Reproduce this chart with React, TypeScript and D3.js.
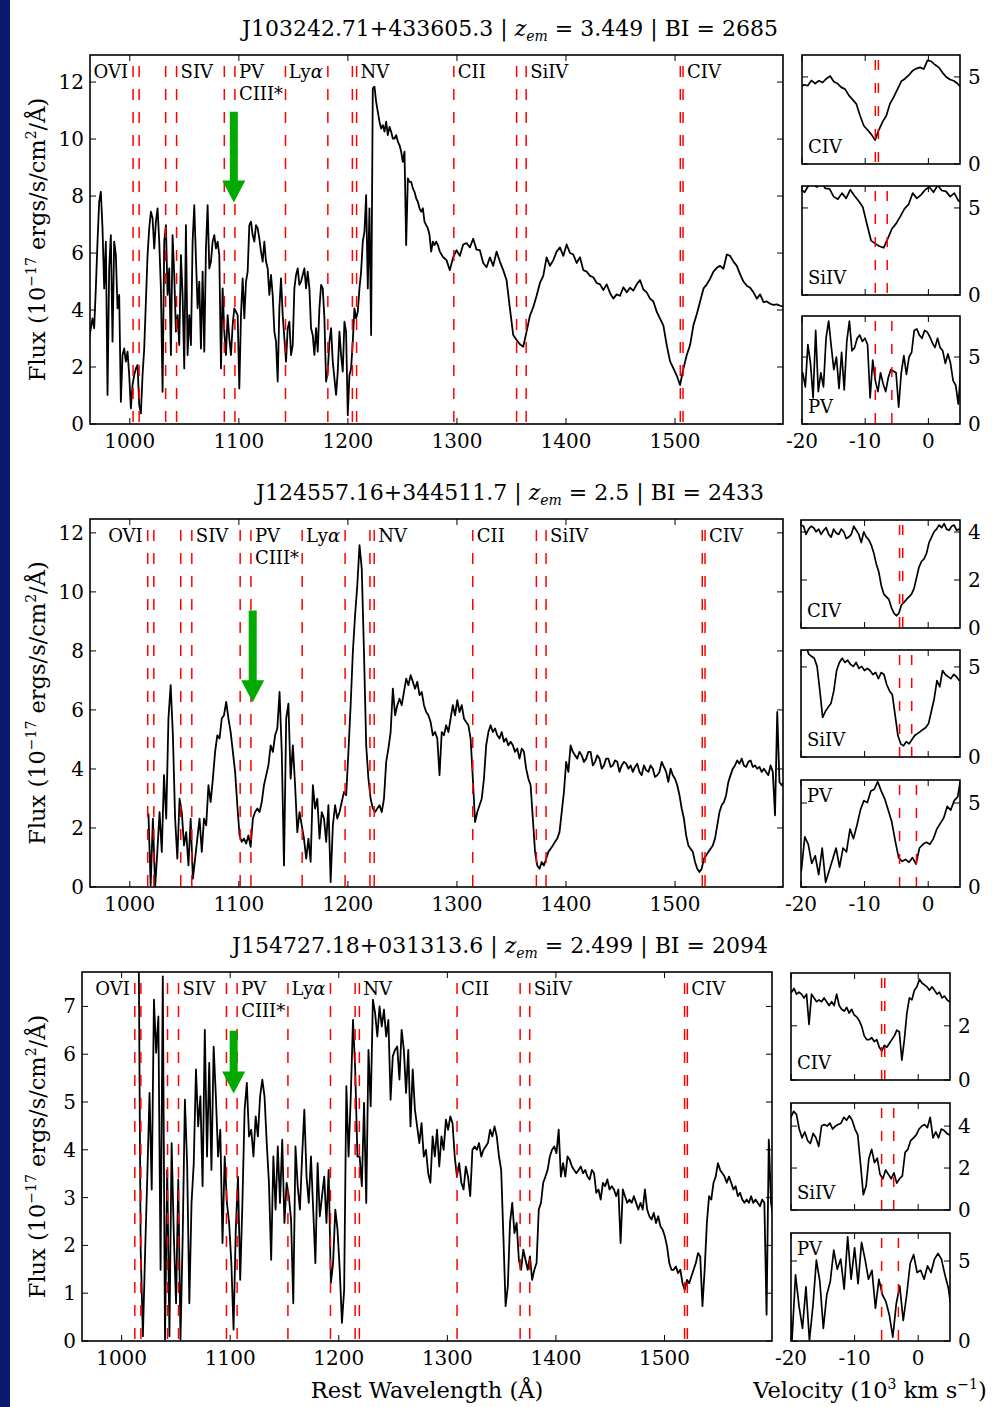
import React from 'react';
import * as d3 from 'd3';

// ---------------- DATA ----------------
const C_KMS = 299792.458;

const quasarNames = ['J103242.71+433605.3', 'J124557.16+344511.7', 'J154727.18+031313.6'];
const quasarZem = ['3.449', '2.5', '2.499'];
const quasarBI = [2685, 2433, 2094];
// outflow velocity of marked absorption (10^3 km/s)
const outflowVel = [-8.4, -4.5, -5.75];
// green arrows: wavelength, top flux, tip flux
const arrowWave = [1095.4, 1112.7, 1103.2];
const arrowTop = [10.96, 9.37, 6.49];
const arrowTip = [7.77, 6.26, 5.18];

const waveDomain = [963.5, 1599];
const waveTicks = [1000, 1100, 1200, 1300, 1400, 1500];
const velDomain = [-20, 5];
const velTicks = [-20, -10, 0];

const mainYMax = [12.95, 12.47, 7.72];
const mainYTicks = [
  [0, 2, 4, 6, 8, 10, 12],
  [0, 2, 4, 6, 8, 10, 12],
  [0, 1, 2, 3, 4, 5, 6, 7],
];
const smallYMax = [
  [6.26, 6.26, 8.06],
  [4.5, 5.94, 6.37],
  [3.95, 5.1, 6.75],
];
const smallYTicks = [
  [[0, 5], [0, 5], [0, 5]],
  [[0, 2, 4], [0, 5], [0, 5]],
  [[0, 2], [0, 2, 4], [0, 5]],
];

// rest wavelengths of the marked transitions
const lineRest = [1031.93, 1037.62, 1062.66, 1072.97, 1117.98, 1128.01, 1175.7, 1215.67,
  1238.82, 1242.80, 1334.53, 1393.76, 1402.77, 1548.20, 1550.78];
const lineLabelText = ['OVI', 'SIV', 'PV', 'CIII*', 'Lyα', 'NV', 'CII', 'SiIV', 'CIV'];
const lineLabelRef = [0, 3, 5, 5, 7, 9, 10, 12, 14];
const lineLabelAnchor = ['end', 'start', 'start', 'start', 'end', 'start', 'start', 'start', 'start'];
const lineLabelRow = [0, 0, 0, 1, 0, 0, 0, 0, 0];

// velocity panels: ion name, reference (blue) line, partner line
const ionNames = ['CIV', 'SiIV', 'PV'];
const ionRef = [1548.20, 1393.76, 1117.98];
const ionPair = [1550.78, 1402.77, 1128.01];

// ---- spectrum 1 (J103242.71+433605.3) ----
const spec1StartA = 961.2;
const spec1StepA = 1.53;
const spec1FluxA = [
  1.25, 3.01, 3.36, 3.71, 3.36, 4.76, 6.40, 7.80, 8.15, 6.87,
  4.76, 6.40, 1.02, 5.46, 6.63, 2.89, 6.40, 5.93, 4.06, 4.53,
  0.78, 2.42, 2.65, 2.19, 2.54, 1.72, 0.55, 1.37, 1.72, 1.95,
  2.07, 0.67, 0.37, 1.72, 2.65, 4.29, 5.93, 6.87, 7.45, 7.22,
  6.16, 7.10, 7.57, 6.40, 4.76, 1.13, 6.40, 6.98, 4.53, 5.46,
  2.42, 6.63, 5.23, 3.24, 3.82, 2.77, 5.93, 4.53, 1.95, 6.98,
  2.42, 3.82, 2.77, 6.40, 7.68, 5.81, 4.06, 5.00, 2.65, 5.35,
  2.54, 6.16, 7.68, 5.46, 5.70, 6.40, 6.63, 6.16, 6.40, 5.93,
  1.95, 4.76, 3.24, 2.42, 3.82, 3.01, 2.42, 3.47, 4.06, 3.94,
  3.82, 1.25, 3.82, 5.11, 3.71, 5.00, 5.35, 6.98, 7.10, 6.63,
  6.40, 6.98, 6.87, 6.51, 6.05, 5.70, 6.40, 5.70, 5.46, 4.53,
  5.23, 4.53, 3.24, 2.89, 1.49, 4.06, 5.11, 3.82, 3.01, 2.19,
  3.36, 3.59, 2.42, 2.77, 4.76, 5.23, 5.46, 4.88, 5.00, 5.23,
  5.46, 4.76, 5.35, 4.76, 3.36, 3.12, 2.42, 3.36, 2.54, 4.06,
  4.88, 4.76, 3.71, 1.49, 1.84, 2.89, 3.36, 2.19, 1.60, 1.02,
  1.84, 3.24, 2.42, 1.84, 3.59, 3.24, 0.31, 1.72, 1.95, 2.89,
  4.06, 3.71, 3.94, 4.76, 5.35, 6.40, 6.75, 8.03, 4.76, 7.57,
  3.12, 11.78, 11.84, 11.31, 10.96, 10.61, 10.37, 10.49, 10.26, 10.61,
  10.14, 10.43, 10.26, 10.02, 10.02, 10.14, 9.91, 9.79, 9.56, 9.20,
  9.56, 6.28, 8.62, 8.50, 8.50, 8.27, 8.15, 7.92, 7.80, 7.57,
  7.45, 7.57, 7.10, 6.98, 6.87, 6.63, 6.05, 6.40, 6.28, 6.40,
  6.28,
];
const spec1StartB = 1284.3;
const spec1StepB = 3.06;
const spec1FluxB = [
  6.05, 5.85, 5.75, 5.40, 5.85, 6.10, 5.90, 6.30, 6.35, 6.20,
  6.50, 6.12, 6.10, 5.65, 5.50, 5.85, 5.55, 6.05, 5.70, 5.40,
  5.05, 4.06, 3.12, 2.95, 2.80, 2.71, 3.24, 3.80, 4.10, 4.50,
  4.95, 5.20, 5.85, 5.55, 5.75, 6.05, 6.20, 5.90, 6.30, 6.00,
  5.95, 5.65, 5.85, 5.40, 5.35, 5.20, 5.15, 4.95, 4.90, 4.70,
  4.90, 4.60, 4.40, 4.55, 4.50, 4.80, 4.62, 4.78, 4.68, 4.90,
  5.05, 4.72, 4.62, 4.40, 4.30, 3.94, 3.70, 3.45, 2.77, 2.20,
  1.95, 1.70, 1.37, 1.95, 2.42, 2.77, 3.47, 3.85, 4.30, 4.75,
  4.90, 5.10, 5.35, 5.48, 5.55, 5.45, 5.95, 5.90, 5.70, 5.55,
  5.25, 5.00, 4.85, 4.78, 4.62, 4.40, 4.55, 4.28, 4.30, 4.22,
  4.18, 4.20, 4.15, 4.12,
];

// ---- spectrum 2 (J124557.16+344511.7) ----
const spec2Start = 1017.1;
const spec2Step = 2.0375;
const spec2Flux = [
  2.49, 0.06, 2.32, 0.00, 1.19, 2.54, 1.19, 3.79, 2.32, 5.71,
  6.84, 5.14, 2.32, 0.96, 2.99, 2.54, 1.41, 1.86, 0.73, 2.32,
  0.28, 0.96, 1.64, 2.32, 1.19, 2.32, 2.09, 3.45, 2.88, 3.67,
  4.58, 5.14, 5.03, 5.71, 5.82, 6.27, 5.71, 5.25, 4.58, 3.90,
  2.77, 1.75, 1.53, 1.64, 1.47, 1.75, 1.36, 2.32, 2.54, 2.66,
  2.54, 2.88, 3.45, 3.79, 4.12, 4.80, 4.58, 5.14, 5.37, 6.61,
  4.58, 0.73, 5.71, 6.21, 3.67, 4.80, 3.45, 1.86, 2.54, 2.09,
  1.64, 0.96, 1.64, 0.85, 3.45, 2.66, 2.99, 1.64, 2.54, 2.32,
  1.53, 2.77, 0.17, 2.09, 2.77, 2.32, 2.54, 2.88, 3.22, 3.11,
  4.58, 6.16, 7.97, 9.21, 10.23, 11.58, 10.79, 7.97, 4.80, 3.67,
  2.99, 2.66, 2.54, 2.66, 2.77, 2.54, 2.99, 4.24, 4.69, 5.25,
  6.72, 5.82, 6.16, 6.38, 6.16, 6.61, 7.06, 6.84, 7.18, 6.95,
  6.72, 6.95, 6.50, 6.61, 6.16, 5.93, 5.82, 5.59, 5.14, 5.25,
  5.03, 3.79, 5.25, 5.14, 5.48, 5.25, 5.71, 6.16, 5.82, 6.33,
  5.93, 6.16, 5.71, 5.59, 5.48, 5.03, 3.67, 2.20, 2.54, 2.77,
  2.99, 3.67, 4.80, 5.25, 5.48, 5.25, 5.37, 5.14, 5.03, 5.25,
  4.92, 5.03, 4.80, 4.92, 4.80, 4.58, 4.69, 4.35, 4.69, 4.58,
  4.01, 3.67, 3.45, 2.32, 1.19, 0.73, 0.62, 0.85, 0.73, 0.96,
  1.19, 1.30, 1.41, 1.53, 1.64, 1.86, 2.54, 3.22, 4.24, 3.90,
  4.80, 4.58, 4.46, 4.35, 4.58, 4.46, 4.24, 4.35, 4.58, 4.58,
  4.12, 4.24, 4.46, 4.35, 4.01, 4.12, 4.35, 4.35, 4.07, 4.12,
  4.29, 4.24, 3.90, 4.12, 4.24, 4.18, 4.01, 4.12, 3.90, 4.07,
  4.18, 3.90, 3.79, 4.12, 3.96, 3.90, 4.12, 4.01, 3.73, 3.79,
  3.90, 4.24, 4.07, 3.90, 3.56, 4.01, 3.79, 3.67, 3.45, 3.11,
  2.66, 2.32, 1.75, 1.41, 1.30, 1.19, 0.85, 0.62, 0.51, 0.62,
  0.96, 1.07, 1.19, 1.30, 1.41, 1.64, 2.09, 2.54, 2.77, 2.88,
  3.11, 3.56, 3.79, 4.01, 4.12, 4.29, 4.18, 4.35, 4.12, 4.07,
  4.24, 4.29, 4.07, 4.12, 4.01, 4.07, 3.90, 4.01, 3.90, 3.79,
  4.12, 3.90, 2.43, 5.93, 3.56, 3.45, 3.56,
];

// ---- spectrum 3 (J154727.18+031313.6) ----
const spec3Start = 1015.5;
const spec3Step = 2.037;
const spec3Flux = [
  9.0, 1.91, 0.10, 1.84, 3.44, 5.19, 3.17, 7.14, 6.03, 6.79,
  1.49, 7.63, 0.03, 3.58, 0.10, 4.14, 2.19, 0.79, 3.38, 0.03,
  2.19, 5.05, 3.72, 0.79, 2.89, 3.72, 5.68, 4.49, 5.12, 3.24,
  6.51, 3.86, 5.82, 3.58, 6.16, 5.12, 3.86, 4.42, 2.05, 3.86,
  2.89, 2.47, 1.63, 0.24, 2.33, 3.44, 1.28, 2.89, 4.84, 5.40,
  4.28, 4.42, 3.86, 4.70, 4.28, 5.12, 5.47, 5.12, 4.14, 3.31,
  1.70, 3.86, 2.75, 4.07, 2.89, 4.21, 2.47, 3.31, 3.03, 2.54,
  0.79, 4.07, 3.24, 2.75, 3.86, 4.84, 3.44, 2.89, 3.86, 2.75,
  1.63, 3.72, 2.61, 3.03, 3.44, 2.47, 3.58, 1.21, 1.63, 2.75,
  2.33, 1.49, 0.38, 1.07, 5.33, 3.86, 5.12, 6.72, 5.68, 3.86,
  3.86, 3.24, 4.98, 2.89, 6.09, 4.91, 7.14, 6.86, 6.37, 7.00,
  6.58, 6.93, 6.37, 6.72, 5.05, 5.96, 6.09, 6.16, 5.47, 6.51,
  6.09, 5.19, 6.09, 4.49, 5.68, 4.84, 4.49, 4.14, 4.56, 3.86,
  4.00, 3.51, 3.31, 4.28, 3.86, 4.42, 3.65, 4.28, 4.00, 4.63,
  4.42, 4.70, 4.56, 3.86, 3.44, 3.72, 3.31, 3.17, 3.65, 3.44,
  3.03, 4.00, 4.07, 4.00, 4.14, 3.86, 4.00, 4.07, 4.14, 4.42,
  4.28, 4.49, 4.28, 3.86, 3.58, 2.19, 0.73, 1.14, 2.47, 2.89,
  2.26, 2.47, 1.70, 1.49, 1.91, 1.70, 1.49, 1.77, 1.28, 1.49,
  1.63, 2.75, 2.89, 3.31, 3.44, 3.58, 3.86, 4.00, 4.07, 3.93,
  4.42, 3.44, 3.72, 3.44, 3.86, 3.79, 3.65, 3.58, 3.51, 3.58,
  3.65, 3.51, 3.58, 3.44, 3.38, 3.58, 3.51, 3.10, 3.17, 2.96,
  3.31, 3.24, 3.38, 3.17, 3.24, 3.17, 3.03, 3.17, 2.05, 3.17,
  3.03, 2.89, 2.96, 2.89, 3.03, 2.89, 2.75, 2.89, 2.75, 3.17,
  2.75, 2.61, 2.54, 2.68, 2.47, 2.61, 2.40, 2.33, 2.19, 1.98,
  1.63, 1.49, 1.49, 1.56, 1.42, 1.49, 1.21, 1.07, 1.28, 1.21,
  1.35, 1.49, 1.63, 1.84, 1.77, 0.73, 1.49, 2.47, 3.03, 2.96,
  3.31, 3.44, 3.72, 3.58, 3.51, 3.44, 3.31, 3.44, 3.31, 3.17,
  3.24, 3.03, 3.10, 2.96, 2.89, 2.96, 2.89, 3.03, 2.89, 2.96,
  2.89, 2.82, 2.96, 2.89, 0.55, 4.21, 2.89, 2.61,
];

// ---------------- LAYOUT ----------------
const FONT = "'DejaVu Serif', 'Liberation Serif', serif";

type Seg = { start: number; step: number; flux: number[] };
function buildSpectrum(segs: Seg[]): [number, number][] {
  const pts: [number, number][] = [];
  segs.forEach((s) => s.flux.forEach((f, i) => pts.push([s.start + i * s.step, f])));
  return pts;
}

const spectra = [
  buildSpectrum([
    { start: spec1StartA, step: spec1StepA, flux: spec1FluxA },
    { start: spec1StartB, step: spec1StepB, flux: spec1FluxB },
  ]),
  buildSpectrum([{ start: spec2Start, step: spec2Step, flux: spec2Flux }]),
  buildSpectrum([{ start: spec3Start, step: spec3Step, flux: spec3Flux }]),
];

const layouts = [
  {
    title: { x: 510, y: 36 },
    main: { x0: 90, x1: 783, y0: 55, y1: 424 },
    small: { x0: 802, x1: 960, boxes: [[55, 164], [186, 295], [316, 424]] },
    pvTop: false,
  },
  {
    title: { x: 510, y: 500 },
    main: { x0: 90, x1: 783, y0: 519, y1: 887 },
    small: { x0: 801, x1: 960, boxes: [[520, 628], [650, 757], [780, 887]] },
    pvTop: true,
  },
  {
    title: { x: 500, y: 953 },
    main: { x0: 82, x1: 772, y0: 972, y1: 1341 },
    small: { x0: 791, x1: 950, boxes: [[973, 1080], [1103, 1210], [1233, 1341]] },
    pvTop: true,
  },
];

const TICK = 6;
const DASH = '11 12';
const TITLE_FS = 22;
const LABEL_FS = 22.5;

function Row({ i }: { i: number }) {
  const L = layouts[i];
  const m = L.main;
  const xs = d3.scaleLinear().domain(waveDomain).range([m.x0, m.x1]);
  const ys = d3.scaleLinear().domain([0, mainYMax[i]]).range([m.y1, m.y0]);
  const line = d3
    .line<[number, number]>()
    .x((d) => xs(d[0]))
    .y((d) => ys(d[1]));
  const shift = 1 + (outflowVel[i] * 1000) / C_KMS;
  const shifted = lineRest.map((r) => r * shift);
  const clipId = `clip-main-${i}`;

  // arrow
  const ax = xs(arrowWave[i]);
  const aTop = ys(arrowTop[i]);
  const aTip = ys(arrowTip[i]);
  const hl = 22;
  const arrowPts = [
    [ax - 4, aTop], [ax + 4, aTop], [ax + 4, aTip - hl], [ax + 11.5, aTip - hl],
    [ax, aTip], [ax - 11.5, aTip - hl], [ax - 4, aTip - hl],
  ].map((p) => p.join(',')).join(' ');

  const sp = L.small;
  const vx = d3.scaleLinear().domain(velDomain).range([sp.x0, sp.x1]);

  return (
    <g>
      {/* title */}
      <text x={L.title.x} y={L.title.y} textAnchor="middle" fontSize={TITLE_FS} fontFamily={FONT}>
        {quasarNames[i]} |{' '}
        <tspan fontStyle="italic">z</tspan>
        <tspan fontStyle="italic" fontSize={14} dy={5}>em</tspan>
        <tspan dy={-5}>{` = ${quasarZem[i]} | BI = ${quasarBI[i]}`}</tspan>
      </text>

      {/* main panel */}
      <defs>
        <clipPath id={clipId}>
          <rect x={m.x0} y={m.y0} width={m.x1 - m.x0} height={m.y1 - m.y0} />
        </clipPath>
      </defs>
      <g clipPath={`url(#${clipId})`}>
        <path d={line(spectra[i]) || ''} fill="none" stroke="#000" strokeWidth={1.8} strokeLinejoin="round" />
        {shifted.map((w, k) => (
          <line key={k} x1={xs(w)} x2={xs(w)} y1={m.y0} y2={m.y1} stroke="#ff0000" strokeWidth={1.5}
            strokeDasharray={DASH} strokeDashoffset={12} />
        ))}
        <polygon points={arrowPts} fill="#00aa00" />
      </g>
      {lineLabelText.map((t, k) => {
        const x = xs(shifted[lineLabelRef[k]]) + (lineLabelAnchor[k] === 'start' ? 4 : -5);
        const y = m.y0 + (lineLabelRow[k] === 0 ? 23 : 45);
        return (
          <text key={k} x={x} y={y} textAnchor={lineLabelAnchor[k] as any} fontSize={18} fontFamily={FONT}>
            {t === 'Lyα' ? (<>Ly<tspan fontStyle="italic">α</tspan></>) : t}
          </text>
        );
      })}
      <rect x={m.x0} y={m.y0} width={m.x1 - m.x0} height={m.y1 - m.y0} fill="none" stroke="#000" strokeWidth={1.6} />
      {waveTicks.map((t) => (
        <g key={t}>
          <line x1={xs(t)} x2={xs(t)} y1={m.y1} y2={m.y1 - TICK} stroke="#000" strokeWidth={1} />
          <line x1={xs(t)} x2={xs(t)} y1={m.y0} y2={m.y0 + TICK} stroke="#000" strokeWidth={1} />
          <text x={xs(t)} y={m.y1 + 24} textAnchor="middle" fontSize={20} fontFamily={FONT}>{t}</text>
        </g>
      ))}
      {mainYTicks[i].map((t) => (
        <g key={t}>
          <line x1={m.x0} x2={m.x0 + TICK} y1={ys(t)} y2={ys(t)} stroke="#000" strokeWidth={1} />
          <line x1={m.x1 - TICK} x2={m.x1} y1={ys(t)} y2={ys(t)} stroke="#000" strokeWidth={1} />
          <text x={m.x0 - 6} y={ys(t) + 7} textAnchor="end" fontSize={20} fontFamily={FONT}>{t}</text>
        </g>
      ))}
      {/* y label */}
      <text transform={`translate(45,${(m.y0 + m.y1) / 2}) rotate(-90)`} textAnchor="middle" fontSize={LABEL_FS} fontFamily={FONT}>
        Flux (10<tspan fontSize={14} dy={-9}>−17</tspan><tspan dy={9}> ergs/s/cm</tspan>
        <tspan fontSize={14} dy={-9}>2</tspan><tspan dy={9}>/Å)</tspan>
      </text>

      {/* velocity panels */}
      {ionNames.map((ion, j) => {
        const [by0, by1] = sp.boxes[j];
        const vy = d3.scaleLinear().domain([0, smallYMax[i][j]]).range([by1, by0]);
        const pts = spectra[i]
          .map(([w, f]) => [(C_KMS * (w / ionRef[j] - 1)) / 1000, f] as [number, number])
          .filter((d) => d[0] >= -23 && d[0] <= 8);
        const vline = d3
          .line<[number, number]>()
          .x((d) => vx(d[0]))
          .y((d) => vy(d[1]));
        const vA = outflowVel[i];
        const vB = (C_KMS * ((ionPair[j] * shift) / ionRef[j] - 1)) / 1000;
        const cid = `clip-s-${i}-${j}`;
        const labelTop = j === 2 && L.pvTop;
        return (
          <g key={ion}>
            <defs>
              <clipPath id={cid}>
                <rect x={sp.x0} y={by0} width={sp.x1 - sp.x0} height={by1 - by0} />
              </clipPath>
            </defs>
            <g clipPath={`url(#${cid})`}>
              <path d={vline(pts) || ''} fill="none" stroke="#000" strokeWidth={1.7} strokeLinejoin="round" />
              {[vA, vB].map((v, k) => (
                <line key={k} x1={vx(v)} x2={vx(v)} y1={by0} y2={by1} stroke="#ff0000" strokeWidth={1.5}
                  strokeDasharray="10 13" strokeDashoffset={18} />
              ))}
            </g>
            <rect x={sp.x0} y={by0} width={sp.x1 - sp.x0} height={by1 - by0} fill="none" stroke="#000" strokeWidth={1.6} />
            {velTicks.map((t) => (
              <g key={t}>
                <line x1={vx(t)} x2={vx(t)} y1={by1} y2={by1 - TICK} stroke="#000" strokeWidth={1} />
                <line x1={vx(t)} x2={vx(t)} y1={by0} y2={by0 + TICK} stroke="#000" strokeWidth={1} />
                {j === 2 && (
                  <text x={vx(t)} y={by1 + 24} textAnchor="middle" fontSize={20} fontFamily={FONT}>{t}</text>
                )}
              </g>
            ))}
            {smallYTicks[i][j].map((t) => (
              <g key={t}>
                <line x1={sp.x0} x2={sp.x0 + TICK} y1={vy(t)} y2={vy(t)} stroke="#000" strokeWidth={1} />
                <line x1={sp.x1 - TICK} x2={sp.x1} y1={vy(t)} y2={vy(t)} stroke="#000" strokeWidth={1} />
                <text x={sp.x1 + 8} y={vy(t) + 7} textAnchor="start" fontSize={20} fontFamily={FONT}>{t}</text>
              </g>
            ))}
            <text x={sp.x0 + 6} y={labelTop ? by0 + 22 : by1 - 11} fontSize={18} fontFamily={FONT}>{ion}</text>
          </g>
        );
      })}
    </g>
  );
}

export default function App() {
  return (
    <svg width={996} height={1407} style={{ position: 'absolute', left: 0, top: 0, background: '#fff' }}
      xmlns="http://www.w3.org/2000/svg">
      <rect x={0} y={0} width={996} height={1407} fill="#fff" />
      <rect x={0} y={0} width={10} height={1407} fill="#0b1a6c" />
      {[0, 1, 2].map((i) => (
        <Row key={i} i={i} />
      ))}
      <text x={427} y={1398} textAnchor="middle" fontSize={LABEL_FS} fontFamily={FONT}>Rest Wavelength (Å)</text>
      <text x={870} y={1398} textAnchor="middle" fontSize={LABEL_FS} fontFamily={FONT}>
        Velocity (10<tspan fontSize={14} dy={-9}>3</tspan><tspan dy={9}>{'  km s'}</tspan>
        <tspan fontSize={14} dy={-9}>−1</tspan><tspan dy={9}>)</tspan>
      </text>
    </svg>
  );
}
